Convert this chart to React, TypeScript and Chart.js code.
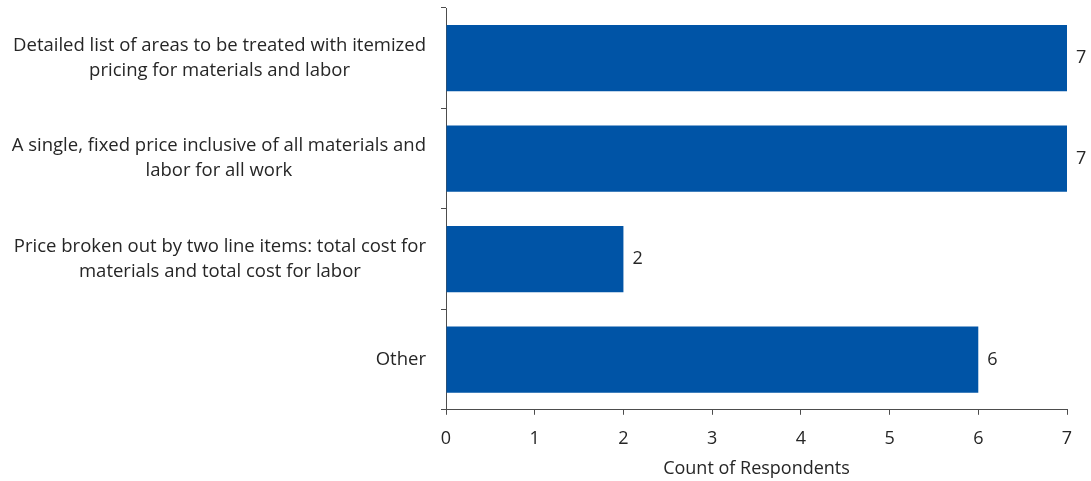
import React, { useEffect, useRef } from "react";
import { Chart, registerables } from "chart.js";

Chart.register(...registerables);

const categories: string[][] = [
  ["Detailed list of areas to be treated with itemized", "pricing for materials and labor"],
  ["A single, fixed price inclusive of all materials and", "labor for all work"],
  ["Price broken out by two line items: total cost for", "materials and total cost for labor"],
  ["Other"],
];
const counts: number[] = [7, 7, 2, 6];
const axisTitle = "Count of Respondents";

const FONT = "'Open Sans', Lato, sans-serif";
const FS = 18;
const LFS = 18.5;
const TEXT = "#262626";
const BAR = "#0054A6";
const AXIS = "#4d4d4d";

export default function App() {
  const ref = useRef<HTMLCanvasElement | null>(null);
  useEffect(() => {
    document.body.style.margin = "0";
    const ctx = ref.current!;
    const labelPlugin = {
      id: "customLabels",
      afterDraw(chart: any) {
        const c = chart.ctx;
        const y = chart.scales.y;
        c.save();
        c.font = `${LFS}px ${FONT}`;
        c.fillStyle = TEXT;
        c.textBaseline = "middle";
        const lh = 25;
        categories.forEach((lines, i) => {
          const cy = y.getPixelForValue(i);
          const widths = lines.map((l) => c.measureText(l).width);
          const maxW = Math.max(...widths);
          const right = chart.chartArea.left - 20;
          const cx = right - maxW / 2;
          c.textAlign = "center";
          const start = cy - ((lines.length - 1) * lh) / 2;
          lines.forEach((l, j) => c.fillText(l, cx, start + j * lh));
        });
        const meta = chart.getDatasetMeta(0);
        c.font = `${FS}px ${FONT}`;
        c.textAlign = "left";
        meta.data.forEach((bar: any, i: number) => {
          c.fillText(String(counts[i]), bar.x + 9, bar.y);
        });
        c.restore();
      },
    };
    const chart = new Chart(ctx, {
      type: "bar",
      data: {
        labels: categories.map((l) => l.join(" ")),
        datasets: [
          {
            data: counts,
            backgroundColor: BAR,
            borderWidth: 0,
            barPercentage: 0.66,
            categoryPercentage: 1,
          },
        ],
      },
      plugins: [labelPlugin],
      options: {
        indexAxis: "y",
        animation: false,
        responsive: true,
        maintainAspectRatio: false,
        layout: { padding: { left: 441, right: 24, top: 8, bottom: 1 } },
        plugins: { legend: { display: false }, tooltip: { enabled: false } },
        scales: {
          y: {
            ticks: { display: false },
            grid: {
              display: true,
              drawOnChartArea: false,
              offset: true,
              tickLength: 5,
              color: AXIS,
            },
            border: { display: true, color: AXIS, width: 1 },
          },
          x: {
            min: 0,
            max: 7,
            ticks: {
              stepSize: 1,
              color: TEXT,
              font: { family: FONT, size: FS },
              padding: 13,
            },
            grid: {
              display: true,
              drawOnChartArea: false,
              tickLength: 5,
              color: AXIS,
            },
            border: { display: true, color: AXIS, width: 1 },
            title: {
              display: true,
              text: axisTitle,
              color: TEXT,
              font: { family: FONT, size: FS },
              padding: { top: -4, bottom: 0 },
            },
          },
        },
      },
    });
    return () => chart.destroy();
  }, []);
  return (
    <div style={{ position: "relative", width: 1091, height: 481 }}>
      <canvas ref={ref} />
    </div>
  );
}
